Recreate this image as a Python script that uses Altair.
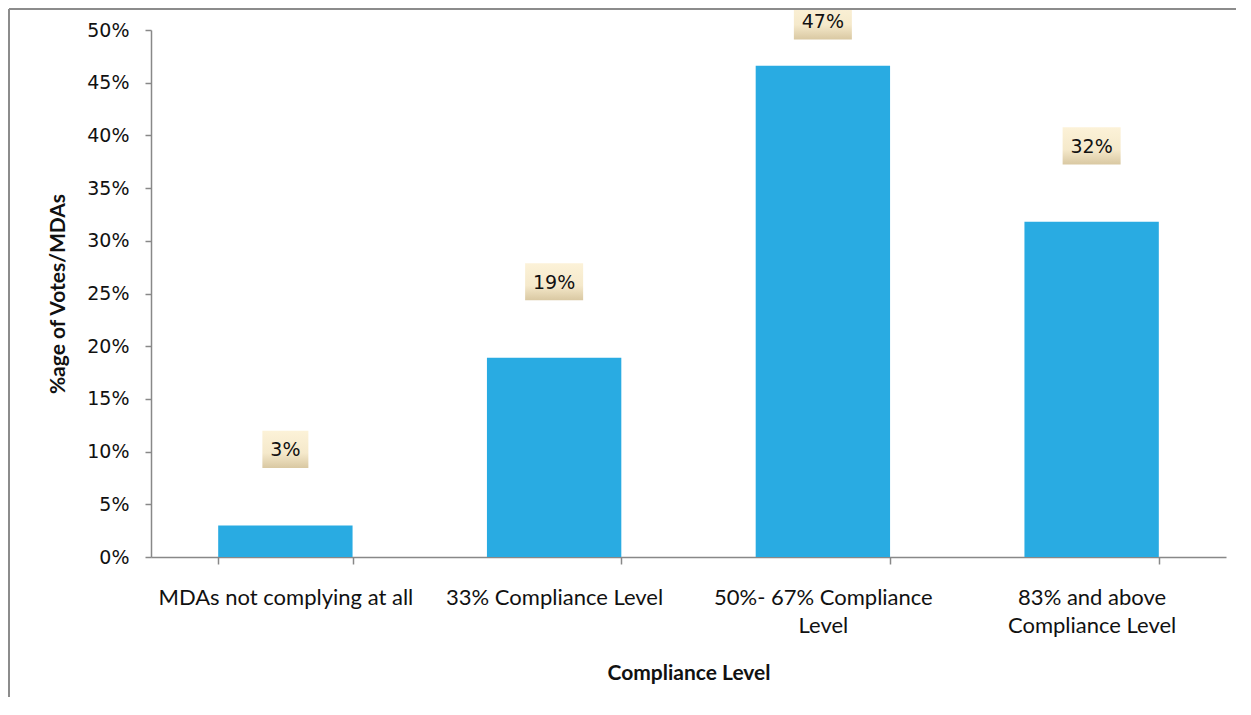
import altair as alt
import pandas as pd

categories = [
    "MDAs  not complying at all",
    "33% Compliance Level",
    "50%- 67%  Compliance|Level",
    "83% and above|Compliance Level",
]
values = [0.030, 0.189, 0.466, 0.318]
y_ticks = [0.0, 0.05, 0.10, 0.15, 0.20, 0.25, 0.30, 0.35, 0.40, 0.45, 0.50]

df = pd.DataFrame({"cat": categories, "value": values})

W, H = 1075, 527
PAD_L, PAD_T, PAD_R, PAD_B = 143, 22, 10, 140

x_enc = alt.X(
    "cat:N",
    sort=categories,
    scale=alt.Scale(paddingInner=0.5, paddingOuter=0.25),
    axis=alt.Axis(
        title="Compliance Level",
        labelAngle=0,
        labelExpr="split(datum.label, '|')",
        labelFont="Lato",
        labelFontSize=22,
        labelColor="#111111",
        labelLineHeight=28,
        labelPadding=23,
        labelLimit=400,
        tickBand="extent",
        tickSize=7,
        tickColor="#888888",
        domainColor="#888888",
        domainWidth=1.5,
        tickWidth=1.5,
        titleFont="Lato",
        titleFontSize=21,
        titleFontWeight="bold",
        titleColor="#111111",
        titlePadding=26,
    ),
)

y_scale = alt.Scale(domain=[0, 0.5], nice=False)

bars = alt.Chart(df).mark_bar(color="#29ABE2").encode(
    x=x_enc,
    y=alt.Y(
        "value:Q",
        scale=y_scale,
        axis=alt.Axis(
            title="%age of Votes/MDAs",
            values=y_ticks,
            format=".0%",
            grid=False,
            labelFont="DejaVu Sans",
            labelFontSize=19,
            labelColor="#111111",
            labelPadding=16,
            tickSize=6,
            tickColor="#888888",
            domainColor="#888888",
            domainWidth=1.5,
            tickWidth=1.5,
            titleFont="Lato",
            titleFontSize=21,
            titleFontWeight="bold",
            titleColor="#111111",
            titlePadding=18,
        ),
    ),
)

label_base = alt.Chart(df).transform_calculate(
    lpos="min(datum.value + 0.0721, 0.5085)",
    ltop="min(datum.value + 0.0721, 0.5085) + 0.0176",
    lbot="min(datum.value + 0.0721, 0.5085) - 0.0176",
)

grad = alt.LinearGradient(
    gradient="linear",
    stops=[
        alt.GradientStop(color="#FCF2D8", offset=0),
        alt.GradientStop(color="#F5E9CB", offset=0.6),
        alt.GradientStop(color="#D9C8A2", offset=1),
    ],
    x1=0, x2=0, y1=0, y2=1,
)

box_small = label_base.transform_filter("datum.value < 0.095").mark_bar(
    color=grad, width=46
).encode(
    x=alt.X("cat:N", sort=categories),
    y=alt.Y("ltop:Q", scale=y_scale),
    y2="lbot:Q",
)
box_big = label_base.transform_filter("datum.value >= 0.095").mark_bar(
    color=grad, width=58
).encode(
    x=alt.X("cat:N", sort=categories),
    y=alt.Y("ltop:Q", scale=y_scale),
    y2="lbot:Q",
)

label_text = label_base.mark_text(
    font="DejaVu Sans", fontSize=19, color="#111111", baseline="middle", align="center", dy=1
).encode(
    x=alt.X("cat:N", sort=categories),
    y=alt.Y("lpos:Q", scale=y_scale),
    text=alt.Text("value:Q", format=".0%"),
)

border_left = alt.Chart(df).mark_rule(color="#8c8c8c", strokeWidth=2).encode(
    x=alt.value(-PAD_L + 1),
    y=alt.value(-PAD_T + 1),
    y2=alt.value(H + PAD_B),
)
border_top = alt.Chart(df).mark_rule(color="#8c8c8c", strokeWidth=2).encode(
    x=alt.value(-PAD_L + 1),
    x2=alt.value(W + PAD_R),
    y=alt.value(-PAD_T + 1),
)

chart = alt.layer(bars, box_small, box_big, label_text, border_left, border_top).properties(
    width=W,
    height=H,
    background="white",
    autosize=alt.AutoSizeParams(type="none"),
    padding={"left": PAD_L, "top": PAD_T, "right": PAD_R, "bottom": PAD_B},
).configure_view(strokeWidth=0, stroke="transparent")

chart.save("out.html", embed_options={"renderer": "svg", "actions": False})
